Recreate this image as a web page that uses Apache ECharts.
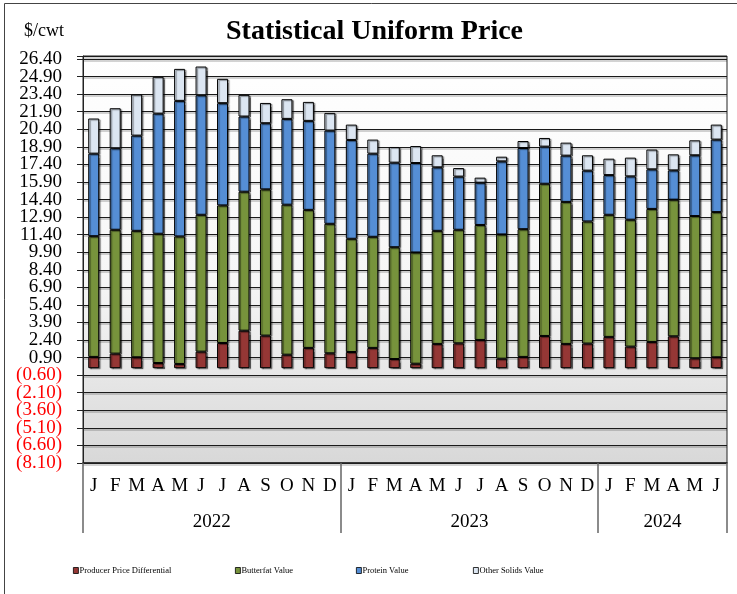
<!DOCTYPE html>
<html>
<head>
<meta charset="utf-8">
<script src="https://cdn.jsdelivr.net/npm/echarts@6/dist/echarts.min.js"></script>
<style>html,body{margin:0;padding:0;background:#fff}#c{width:737px;height:594px}</style>
</head>
<body>
<div id="c"></div>
<script>
const months = ['J','F','M','A','M','J','J','A','S','O','N','D','J','F','M','A','M','J','J','A','S','O','N','D','J','F','M','A','M','J'];
const yearLabels = ['2022','2023','2024'];
const yearCenters = [6, 18, 27];
const yearBounds = [0, 12, 24, 30];
const yTicks = [-8.1,-6.6,-5.1,-3.6,-2.1,-0.6,0.9,2.4,3.9,5.4,6.9,8.4,9.9,11.4,12.9,14.4,15.9,17.4,18.9,20.4,21.9,23.4,24.9,26.4];
const producerPriceDifferential = [0.96,1.24,0.93,0.44,0.36,1.41,2.15,3.20,2.78,1.15,1.73,1.27,1.38,1.73,0.78,0.38,2.07,2.12,2.41,0.81,0.96,2.75,2.07,2.10,2.67,1.84,2.24,2.72,0.84,0.93];
const butterfatValue = [10.31,10.58,10.80,11.04,10.89,11.69,11.75,11.87,12.49,12.81,11.79,11.06,9.67,9.49,9.55,9.50,9.66,9.70,9.82,10.61,10.91,13.00,12.13,10.43,10.43,10.84,11.36,11.67,12.15,12.40];
const proteinValue = [7.05,6.96,8.13,10.26,11.58,10.21,8.73,6.42,5.65,7.33,7.60,7.96,8.44,7.10,7.22,7.64,5.42,4.54,3.61,6.24,6.93,3.17,3.95,4.34,3.39,3.70,3.38,2.50,5.19,6.19];
const otherSolidsValue = [3.00,3.42,3.51,3.14,2.73,2.45,2.08,1.85,1.73,1.68,1.62,1.51,1.31,1.20,1.34,1.45,1.03,0.73,0.43,0.40,0.60,0.74,1.11,1.31,1.40,1.60,1.69,1.37,1.28,1.28];

const FONT = 'Liberation Serif';
const Y_MIN = -8.1, Y_MAX = 26.66;
const chart = echarts.init(document.getElementById('c'), null, {renderer: 'canvas'});
function barSeries(name, data, color) {
  return {
    name: name, type: 'bar', stack: 'total', data: data, barWidth: 11,
    xAxisIndex: 0, yAxisIndex: 0,
    itemStyle: {color: color, borderColor: '#000', borderWidth: 1,
      shadowColor: 'rgba(0,0,0,0.45)', shadowOffsetX: 1.5, shadowOffsetY: 1, shadowBlur: 1},
    emphasis: {disabled: true}
  };
}
function legendAt(name, left) {
  return {data: [name], left: left, top: 561, icon: 'rect', itemWidth: 5, itemHeight: 6,
    itemStyle: {borderColor: '#000', borderWidth: 0.8, shadowBlur: 0, shadowOffsetX: 0, shadowOffsetY: 0},
    textStyle: {fontFamily: FONT, fontSize: 8.5, color: '#000', padding: [0,0,0,-4]}, selectedMode: false};
}
function fmt(v) {
  const r = Math.round(v * 100) / 100;
  return r < 0 ? '(' + Math.abs(r).toFixed(2) + ')' : r.toFixed(2);
}
function labelStyle(values) {
  return {customValues: values, fontFamily: FONT, fontSize: 19, margin: 21,
    showMinLabel: true, showMaxLabel: true, hideOverlap: false,
    formatter: function (v) { return fmt(v); },
    color: function (v) { return (Math.round(Number(v) * 100) / 100) < 0 ? '#ff0000' : '#000'; }};
}
const option = {
  animation: false,
  backgroundColor: '#fff',
  title: [
    {text: 'Statistical Uniform Price', left: 221, top: 13,
     textStyle: {fontFamily: FONT, fontSize: 28, fontWeight: 'bold', color: '#000'}},
    {text: '$/cwt', left: 19, top: 17,
     textStyle: {fontFamily: FONT, fontSize: 18, fontWeight: 'normal', color: '#000'}}
  ],
  graphic: [{type: 'rect', shape: {x: 4.5, y: 3.5, width: 800, height: 700},
    style: {fill: 'none', stroke: '#444', lineWidth: 1}, silent: true, z: -1}],
  legend: [
    legendAt('Producer Price Differential', 68),
    legendAt('Butterfat Value', 230),
    legendAt('Protein Value', 351),
    legendAt('Other Solids Value', 468)
  ],
  grid: {left: 83, right: 10, top: 56, bottom: 131, show: true,
    borderColor: '#222', borderWidth: 1,
    backgroundColor: new echarts.graphic.LinearGradient(0, 0, 0, 1, [
      {offset: 0, color: '#ffffff'}, {offset: 0.55, color: '#f6f6f6'}, {offset: 1, color: '#d8d8d8'}])},
  xAxis: [
    {type: 'category', data: months, position: 'bottom',
     axisLine: {show: true, onZero: false, lineStyle: {color: '#222', width: 1.5}},
     axisTick: {show: false},
     axisLabel: {fontFamily: FONT, fontSize: 19, color: '#000', margin: 14, interval: 0},
     splitLine: {show: false}},
    {type: 'value', min: 0, max: 30, position: 'bottom', offset: 0,
     axisLine: {show: false, onZero: false}, splitLine: {show: false},
     axisTick: {show: true, customValues: yearBounds, length: 70, inside: false,
       lineStyle: {color: '#666', width: 1.5}},
     axisLabel: {customValues: yearCenters, fontFamily: FONT, fontSize: 19, color: '#000', margin: 50,
       formatter: function (v) { const i = yearCenters.indexOf(v); return i >= 0 ? yearLabels[i] : ''; }}}
  ],
  yAxis: [{
    type: 'value', min: Y_MIN, max: Y_MAX, interval: 1.5, position: 'left', offset: 0,
    axisLine: {show: true, onZero: false, lineStyle: {color: '#222'}},
    axisTick: {show: true, length: 6, lineStyle: {color: '#222'}},
    splitLine: {show: true, lineStyle: {color: '#1a1a1a', width: 1,
      shadowColor: 'rgba(0,0,0,0.35)', shadowOffsetY: 1.5, shadowBlur: 0}},
    axisLabel: labelStyle(yTicks.filter(function (t, i) { return i % 2 === 0; }))
  }, {
    type: 'value', min: Y_MIN, max: Y_MAX, interval: 1.5, position: 'left', offset: 0,
    axisLine: {show: false, onZero: false}, axisTick: {show: false}, splitLine: {show: false},
    axisLabel: labelStyle(yTicks.filter(function (t, i) { return i % 2 === 1; }))
  }],
  series: [
    barSeries('Producer Price Differential', producerPriceDifferential, '#953735'),
    barSeries('Butterfat Value', butterfatValue, '#77933C'),
    barSeries('Protein Value', proteinValue, '#558ED5'),
    barSeries('Other Solids Value', otherSolidsValue, '#DCE6F2')
  ]
};
chart.setOption(option);
</script>
</body>
</html>
